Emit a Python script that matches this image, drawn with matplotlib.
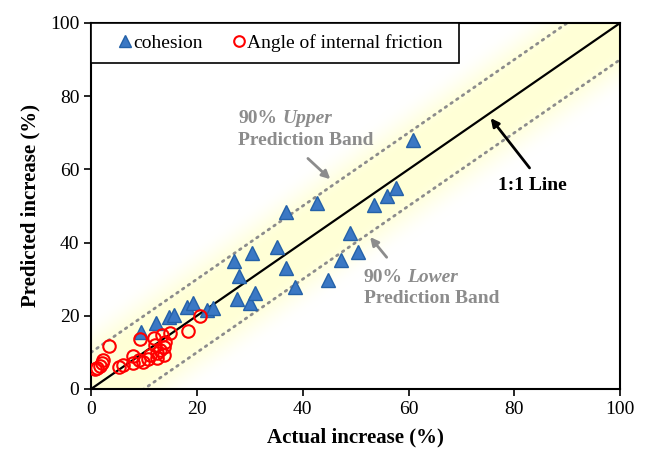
import numpy as np
import matplotlib
matplotlib.use("Agg")
import matplotlib.pyplot as plt
from matplotlib.patches import Rectangle

plt.rcParams['font.family'] = ['Liberation Serif', 'DejaVu Serif']

# measured vs predicted increase (%)
coh_actual = [9.5, 12.3, 14.8, 15.6, 18.2, 19.3, 22.0, 23.1, 27.0, 27.5, 28.0, 30.1, 30.5, 31.0,
              35.1, 36.8, 36.9, 38.5, 42.7, 44.7, 47.3, 49.0, 50.4, 53.4, 56.0, 57.6, 60.9]
coh_pred = [15.7, 17.9, 19.8, 20.2, 22.3, 23.4, 21.6, 22.2, 35.1, 24.5, 30.9, 23.6, 37.2, 26.1,
            38.9, 48.4, 33.1, 27.8, 50.7, 29.8, 35.2, 42.7, 37.4, 50.3, 52.7, 54.8, 68.0]

phi_actual = [0.8, 1.1, 1.6, 2.0, 2.3, 3.4, 5.2, 6.1, 7.9, 8.0, 9.1, 9.3, 9.9, 10.8, 11.2,
              11.8, 12.1, 12.4, 13.0, 13.4, 13.7, 14.0, 14.9, 12.5, 13.8, 18.3, 20.6]
phi_pred = [5.4, 5.6, 6.3, 7.0, 7.9, 11.8, 6.1, 6.6, 9.0, 7.0, 7.9, 13.6, 7.5, 8.2, 9.3,
            13.9, 12.0, 9.7, 10.7, 14.8, 11.6, 12.8, 15.2, 8.5, 9.3, 15.8, 20.0]

band = 10.0          # half width of the 90% prediction band
ticks = [0, 20, 40, 60, 80, 100]
gray = '#8c8c8c'

fig = plt.figure(figsize=(6.46, 4.53), dpi=100)
ax = fig.add_axes([0.141, 0.1413, 0.819, 0.808])

# pale yellow glow along the 1:1 line
g = np.linspace(0, 100, 500)
X, Y = np.meshgrid(g, g)
w = np.clip((np.abs(Y - X) - 6.0) / 14.0, 0, 1)
a = 1 - w * w * (3 - 2 * w)
img = np.ones((500, 500, 3))
img[..., 2] = 1 - 0.16 * a
ax.imshow(img, extent=[0, 100, 0, 100], origin='lower', aspect='auto', zorder=0)

line = np.array([0, 100])
ax.plot(line, line, color='black', lw=1.6, zorder=2)
ax.plot(line, line + band, color=gray, lw=2, ls=(0, (0.6, 1.9)), dash_capstyle='round', zorder=2)
ax.plot(line, line - band, color=gray, lw=2, ls=(0, (0.6, 1.9)), dash_capstyle='round', zorder=2)

ax.plot(coh_actual, coh_pred, ls='none', marker='^', ms=10, mfc='#3b78c4', mec='#2461a8',
        mew=1, label='cohesion', zorder=3)
ax.plot(phi_actual, phi_pred, ls='none', marker='o', ms=9, mfc='none', mec='#ff0000',
        mew=1.5, label='Angle of internal friction', zorder=4)

ax.set_xlim(0, 100)
ax.set_ylim(0, 100)
ax.set_xticks(ticks)
ax.set_yticks(ticks)
ax.tick_params(direction='out', length=5, width=1.2, labelsize=14, colors='black')
for s in ax.spines.values():
    s.set_linewidth(1.5)
ax.set_xlabel('Actual increase (%)', fontsize=15, fontweight='bold', labelpad=7)
ax.set_ylabel('Predicted increase (%)', fontsize=15, fontweight='bold', labelpad=7)

# legend box across the top left
ax.add_patch(Rectangle((0, 0.891), 0.696, 0.109, transform=ax.transAxes, facecolor='white',
                       edgecolor='black', lw=1.2, zorder=5))
ax.legend(loc='center left', bbox_to_anchor=(0.051, 0.945), ncol=2, frameon=False, fontsize=14,
          borderpad=0, borderaxespad=0, handlelength=0.75, handletextpad=0.05,
          columnspacing=1.45, markerscale=0.85).set_zorder(6)

# band labels
bold = dict(fontsize=14, fontweight='bold', color=gray)
t1 = ax.text(27.8, 74.0, '90%', va='center', ha='left', **bold)
ax.annotate('Upper', xy=(1, 0), xycoords=t1, xytext=(3.5, 0), textcoords='offset points',
            va='bottom', ha='left', style='italic', **bold)
ax.text(27.8, 68.0, 'Prediction Band', va='center', ha='left', **bold)

t2 = ax.text(51.5, 30.5, '90%', va='center', ha='left', **bold)
ax.annotate('Lower', xy=(1, 0), xycoords=t2, xytext=(3.5, 0), textcoords='offset points',
            va='bottom', ha='left', style='italic', **bold)
ax.text(51.5, 24.6, 'Prediction Band', va='center', ha='left', **bold)

ax.annotate('', xy=(45.6, 56.8), xytext=(40.6, 63.5),
            arrowprops=dict(arrowstyle='-|>', color=gray, lw=2, mutation_scale=12))
ax.annotate('', xy=(52.4, 42.1), xytext=(56.2, 35.4),
            arrowprops=dict(arrowstyle='-|>', color=gray, lw=2, mutation_scale=12))

ax.text(83.4, 55.5, '1:1 Line', va='center', ha='center', fontsize=14, fontweight='bold')
ax.annotate('', xy=(75.2, 74.6), xytext=(83.2, 59.8),
            arrowprops=dict(arrowstyle='-|>', color='black', lw=2, mutation_scale=12))

fig.savefig('out.png', dpi=100)
